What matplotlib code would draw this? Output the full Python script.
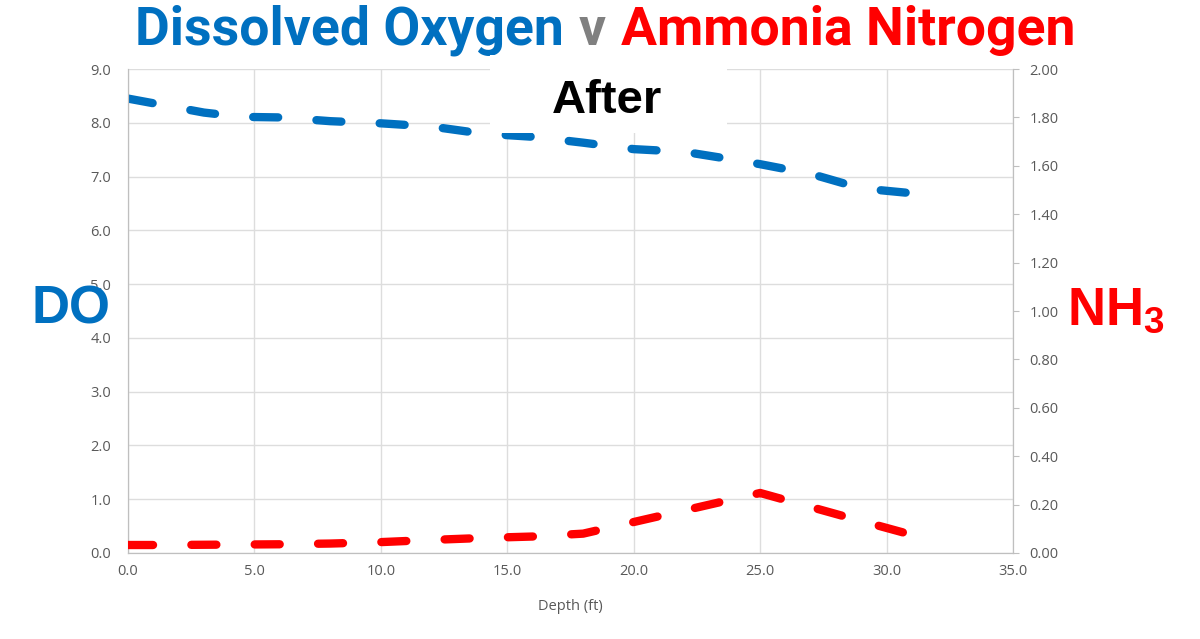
import matplotlib
matplotlib.use("Agg")
import matplotlib.pyplot as plt
from matplotlib.patches import Rectangle

# depth readings (ft) and the two series
depth = [0, 1.5, 3, 4.5, 6, 8, 10, 12, 14, 16, 18, 20, 22, 24, 25, 27, 29, 31]
do_vals = [8.45, 8.32, 8.19, 8.11, 8.10, 8.03, 7.99, 7.93, 7.80, 7.74, 7.63, 7.51,
           7.46, 7.31, 7.23, 7.05, 6.78, 6.69]
nh3_vals = [0.033, 0.033, 0.034, 0.035, 0.036, 0.039, 0.045, 0.054, 0.062, 0.068,
            0.080, 0.128, 0.176, 0.224, 0.248, 0.190, 0.132, 0.075]

x_ticks = [0, 5, 10, 15, 20, 25, 30, 35]
do_ticks = [0, 1, 2, 3, 4, 5, 6, 7, 8, 9]
nh3_ticks = [0, 0.2, 0.4, 0.6, 0.8, 1.0, 1.2, 1.4, 1.6, 1.8, 2.0]

title_parts = [("Dissolved Oxygen", "#0070C0"), ("v", "#808080"),
               ("Ammonia Nitrogen", "#FF0000")]

BLUE = "#0070C0"
RED = "#FF0000"
GRAY = "#595959"
GRID = "#DDDDDD"

plt.rcParams["font.family"] = ["Open Sans", "DejaVu Sans"]

fig = plt.figure(figsize=(12, 6.39), dpi=100)
ax = fig.add_axes([0.1067, 0.1346, 0.7375, 0.7574])
ax2 = ax.twinx()

# grid on the primary axes
ax.set_xlim(0, 35)
ax.set_ylim(0, 9)
ax.set_xticks(x_ticks)
ax.set_xticklabels([f"{v:.1f}" for v in x_ticks])
ax.set_yticks(do_ticks)
ax.set_yticklabels([f"{v:.1f}" for v in do_ticks])
ax.grid(True, color=GRID, linewidth=1)
ax.set_axisbelow(True)
ax.tick_params(axis="both", length=0, colors=GRAY, labelsize=10.5)
ax.tick_params(axis="y", pad=12)
ax.tick_params(axis="x", pad=8)
ax.set_xlabel("Depth (ft)", color=GRAY, fontsize=10.5, labelpad=14)

ax2.set_ylim(0, 2)
ax2.set_yticks(nh3_ticks)
ax2.set_yticklabels([f"{v:.2f}" for v in nh3_ticks])
ax2.tick_params(axis="y", length=4, width=0.8, color="#BFBFBF", colors=GRAY,
                labelsize=10.5, pad=8)

for a in (ax, ax2):
    a.spines["top"].set_visible(False)
    for side in ("left", "bottom", "right"):
        a.spines[side].set_color("#BFBFBF")

ax.plot(depth, do_vals, color=BLUE, linewidth=6, dashes=(3.0, 4.6),
        dash_capstyle="round", solid_capstyle="round", zorder=3)
ax2.plot(depth, nh3_vals, color=RED, linewidth=6, dashes=(3.0, 4.6),
         dash_capstyle="round", solid_capstyle="round", zorder=3)

# title pieces laid out side by side, centred over the chart
tfont = ["Roboto", "DejaVu Sans"]
fig.canvas.draw()
renderer = fig.canvas.get_renderer()
texts = []
for s, c in title_parts:
    t = fig.text(0, 0.952, s, color=c, fontsize=38.5, fontweight="bold",
                 family=tfont, ha="left", va="center")
    texts.append(t)
gap = 15
widths = [t.get_window_extent(renderer).width for t in texts]
total = sum(widths) + gap * (len(widths) - 1)
x0 = 605 - total / 2
for t, w in zip(texts, widths):
    t.set_x(x0 / 1200)
    x0 += w + gap

# white panel with "After" over the top of the plot
fig.add_artist(Rectangle((0.408, 0.792), 0.198, 0.122, transform=fig.transFigure,
                         facecolor="white", edgecolor="none", zorder=9))
fig.text(0.506, 0.842, "After", color="black", fontsize=34, fontweight="bold",
         family=["Liberation Sans", "DejaVu Sans"], ha="center", va="center",
         zorder=10)

fig.text(0.059, 0.515, "DO", color=BLUE, fontsize=38, fontweight="bold",
         family=["Liberation Sans", "DejaVu Sans"], ha="center", va="center")
fig.text(0.93, 0.513, r"NH$_\mathregular{3}$", color=RED, fontsize=38,
         fontweight="bold", family=["Liberation Sans", "DejaVu Sans"],
         ha="center", va="center")

fig.savefig("out.png", dpi=100)
